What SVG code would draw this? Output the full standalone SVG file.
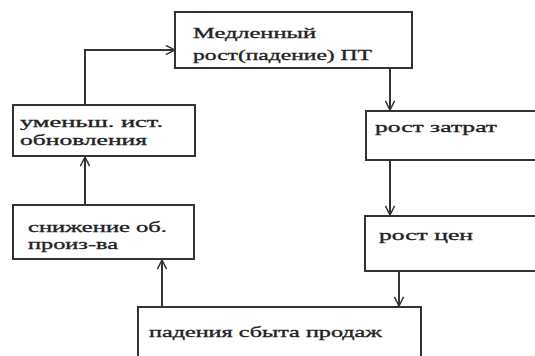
<svg xmlns="http://www.w3.org/2000/svg" width="535" height="356" viewBox="0 0 535 356">
  <style>
    .box { fill: #ffffff; stroke: #333333; stroke-width: 2; }
    .lbl { font-family: "Liberation Serif", "Times New Roman", serif; font-size: 14px; fill: #222222; stroke: #222222; stroke-width: 0.3; }
    .wire { fill: none; stroke: #333333; stroke-width: 2; }
  </style>
  <defs>
    <marker id="arr" viewBox="0 0 12 12" refX="11" refY="6" markerWidth="11" markerHeight="11" markerUnits="userSpaceOnUse" orient="auto">
      <path d="M1,1 L11,6 L1,11" fill="none" stroke="#333333" stroke-width="1.6"/>
    </marker>
  </defs>
  <rect width="535" height="356" fill="#ffffff"/>

  <g id="connectors">
    <!-- feedback loop up the left side into the top box -->
    <polyline class="wire" points="85,105 85,50 175,50" marker-end="url(#arr)"/>
    <line class="wire" x1="85" y1="205" x2="85" y2="157" marker-end="url(#arr)"/>
    <line class="wire" x1="162" y1="307" x2="162" y2="260" marker-end="url(#arr)"/>
    <!-- right-hand chain going down -->
    <line class="wire" x1="390" y1="68" x2="390" y2="110" marker-end="url(#arr)"/>
    <line class="wire" x1="390" y1="160" x2="390" y2="215" marker-end="url(#arr)"/>
    <line class="wire" x1="399" y1="271" x2="399" y2="306" marker-end="url(#arr)"/>
  </g>

  <g id="slow-growth">
    <rect class="box" x="175" y="12" width="237" height="56"/>
    <text class="lbl" x="193" y="38" textLength="123" lengthAdjust="spacingAndGlyphs">Медленный</text>
    <text class="lbl" x="193" y="60" textLength="179" lengthAdjust="spacingAndGlyphs">рост(падение) ПТ</text>
  </g>

  <g id="cost-growth">
    <rect class="box" x="366" y="111" width="175" height="49"/>
    <text class="lbl" x="375" y="132" textLength="122" lengthAdjust="spacingAndGlyphs">рост затрат</text>
  </g>

  <g id="price-growth">
    <rect class="box" x="365" y="216" width="176" height="55"/>
    <text class="lbl" x="379" y="240" textLength="94" lengthAdjust="spacingAndGlyphs">рост цен</text>
  </g>

  <g id="sales-drop">
    <rect class="box" x="138" y="307" width="283" height="60"/>
    <text class="lbl" x="149" y="337" textLength="233" lengthAdjust="spacingAndGlyphs">падения сбыта продаж</text>
  </g>

  <g id="output-drop">
    <rect class="box" x="13" y="205" width="181" height="54"/>
    <text class="lbl" x="28" y="232" textLength="139" lengthAdjust="spacingAndGlyphs">снижение об.</text>
    <text class="lbl" x="28" y="249" textLength="90" lengthAdjust="spacingAndGlyphs">произ-ва</text>
  </g>

  <g id="renewal-drop">
    <rect class="box" x="13" y="105" width="182" height="51"/>
    <text class="lbl" x="20" y="127" textLength="143" lengthAdjust="spacingAndGlyphs">уменьш. ист.</text>
    <text class="lbl" x="20" y="145" textLength="127" lengthAdjust="spacingAndGlyphs">обновления</text>
  </g>
</svg>
